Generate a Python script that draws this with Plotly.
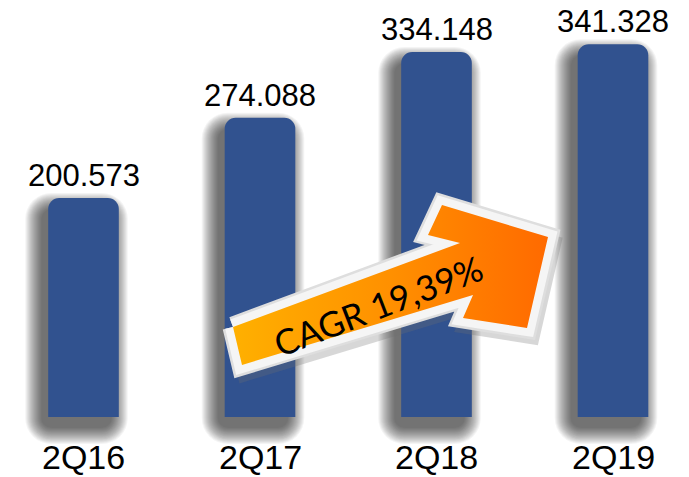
import plotly.graph_objects as go

# datos
periodos = ["2Q16", "2Q17", "2Q18", "2Q19"]
valores = [200.573, 274.088, 334.148, 341.328]
etiquetas = ["200.573", "274.088", "334.148", "341.328"]
cagr_texto = "CAGR 19,39%"

AZUL = "rgb(49,82,143)"
W, H = 689, 477
PX_X = 176.5          # px por categoria
PX_Y = 1.092          # px por unidad
BASE_Y = 417
X0 = 83.5
ANCHO = 0.40
FUENTE = "Liberation Sans, Arial"

x = list(range(len(periodos)))
fig = go.Figure()

# sombra difusa (capas semitransparentes), desplazada abajo-izquierda
for s in range(16, -1, -1):
    w = ANCHO + 2 * s / PX_X
    fig.add_trace(go.Bar(
        x=x, y=[v + 2 * s / PX_Y for v in valores],
        base=(-11 - s) / PX_Y,
        width=w, offset=-w / 2 - 7 / PX_X,
        marker=dict(color="rgba(0,0,0,0.042)", cornerradius=10 + s, line_width=0),
        hoverinfo="skip", showlegend=False,
    ))

# barras
fig.add_trace(go.Bar(
    x=x, y=valores, width=ANCHO,
    marker=dict(color=AZUL, cornerradius=11, line_width=0),
    hoverinfo="x+y", showlegend=False,
))

for i, (v, t) in enumerate(zip(valores, etiquetas)):
    fig.add_annotation(x=i, y=v, yanchor="bottom", yshift=3, text=t, showarrow=False,
                       font=dict(family=FUENTE, size=31, color="black"))

for i, p in enumerate(periodos):
    fig.add_annotation(x=i, y=0, yshift=-40, text=p, showarrow=False,
                       font=dict(family=FUENTE, size=34, color="black"))

# flecha CAGR (coordenadas en pixeles de la imagen, ejes superpuestos)
flecha_x = [233, 460, 428, 442, 548, 527, 463, 473, 242, 233]
flecha_y = [327, 243, 235, 205, 237, 328, 318, 295, 365, 327]

fig.add_trace(go.Scatter(
    x=[v + 4 for v in flecha_x], y=[v + 7 for v in flecha_y], xaxis="x2", yaxis="y2",
    mode="lines", fill="toself", fillcolor="rgba(110,110,110,0.28)",
    line=dict(color="rgba(110,110,110,0.28)", width=18), hoverinfo="skip", showlegend=False))
fig.add_trace(go.Scatter(
    x=flecha_x, y=flecha_y, xaxis="x2", yaxis="y2",
    mode="lines", fill="toself", fillcolor="#f2f2f2",
    line=dict(color="#dedede", width=21), hoverinfo="skip", showlegend=False))
fig.add_trace(go.Scatter(
    x=flecha_x, y=flecha_y, xaxis="x2", yaxis="y2",
    mode="lines", fill="toself", fillcolor="#f5f5f5",
    line=dict(color="#f5f5f5", width=16), hoverinfo="skip", showlegend=False))
fig.add_trace(go.Scatter(
    x=flecha_x, y=flecha_y, xaxis="x2", yaxis="y2",
    mode="lines", fill="toself",
    fillgradient=dict(type="horizontal",
                      colorscale=[[0, "#FFB000"], [0.5, "#FF9000"], [1, "#FF6A00"]]),
    line=dict(width=0), hoverinfo="skip", showlegend=False))

fig.add_annotation(x=378, y=305, xref="x2", yref="y2", text=cagr_texto,
                   textangle=-21, showarrow=False,
                   font=dict(family="Lato", size=35, color="black"))

fig.update_layout(
    width=W, height=H, barmode="overlay",
    margin=dict(l=0, r=0, t=0, b=0),
    paper_bgcolor="white", plot_bgcolor="white",
    xaxis=dict(range=[-X0 / PX_X, (W - X0) / PX_X], visible=False, fixedrange=True),
    yaxis=dict(range=[-(H - BASE_Y) / PX_Y, BASE_Y / PX_Y], visible=False, fixedrange=True),
    xaxis2=dict(overlaying="x", range=[0, W], visible=False, fixedrange=True),
    yaxis2=dict(overlaying="y", range=[H, 0], visible=False, fixedrange=True),
)

# quitar el margen por defecto del body para que la figura ocupe toda la ventana
fig.write_html("out.html", config={"displayModeBar": False},
               post_script="document.body.style.margin='0px';")
